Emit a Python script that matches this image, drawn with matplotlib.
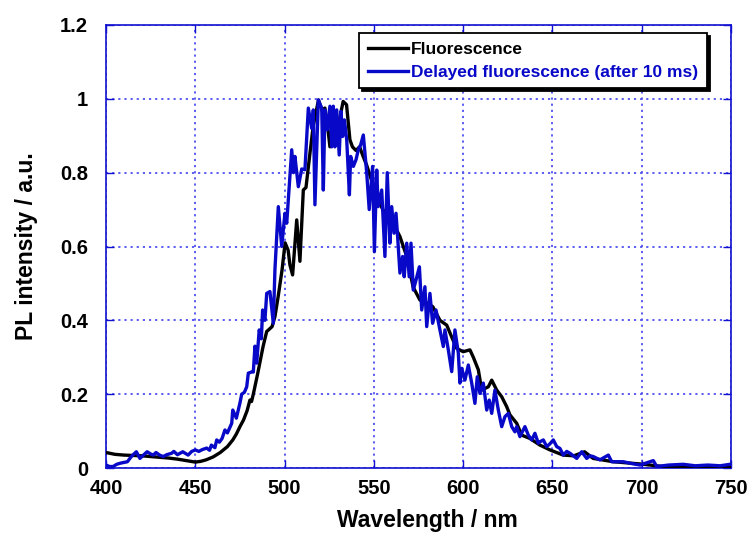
import matplotlib
matplotlib.use('Agg')
import matplotlib.pyplot as plt

# ---- data ----
fl_wl = [400, 405, 410, 415, 420, 425, 430, 435, 440, 445, 450, 453, 456, 460,
         464, 468, 471, 473, 475, 477, 479, 480.6, 481.5, 482.5, 485, 488, 490,
         491, 493, 494.6, 496.4, 498.6, 500.3, 502, 503, 504.5, 506.8, 508.6,
         510.5, 512, 514, 516, 519, 520.8, 522.6, 524, 525.4, 527, 529, 531,
         532.8, 534.7, 536.6, 538, 540, 542, 544, 546, 548, 551.6, 555, 558,
         560.7, 564.6, 568.4, 572, 575.8, 579.6, 583, 587, 590.8, 594, 596.4,
         600, 603.8, 605.7, 608.5, 610.4, 614.1, 616, 618.8, 621.6, 624.4,
         626.2, 630, 632.8, 637.4, 643, 648.6, 656, 662, 668, 672.8, 684, 699,
         712, 730, 750]
fl_val = [0.042, 0.037, 0.035, 0.034, 0.033, 0.031, 0.029, 0.027, 0.024, 0.020,
          0.016, 0.018, 0.022, 0.030, 0.042, 0.058, 0.076, 0.092, 0.112, 0.130,
          0.155, 0.184, 0.180, 0.200, 0.257, 0.330, 0.370, 0.374, 0.383, 0.410,
          0.464, 0.537, 0.610, 0.590, 0.550, 0.523, 0.672, 0.560, 0.753, 0.760,
          0.844, 0.925, 0.997, 0.970, 0.975, 0.930, 0.870, 0.920, 0.880, 0.950,
          0.993, 0.984, 0.889, 0.870, 0.860, 0.870, 0.844, 0.820, 0.790, 0.735,
          0.700, 0.680, 0.664, 0.627, 0.573, 0.490, 0.455, 0.447, 0.437, 0.400,
          0.387, 0.350, 0.324, 0.315, 0.320, 0.300, 0.266, 0.211, 0.220, 0.238,
          0.211, 0.193, 0.166, 0.144, 0.121, 0.089, 0.080, 0.062, 0.049, 0.035,
          0.033, 0.044, 0.026, 0.017, 0.011, 0.004, 0.003, 0.003]

df_wl = [400, 402, 404, 406, 408, 410, 412, 414, 415, 417, 419, 421, 423, 425,
         426.5, 428, 430, 432, 434, 436.8, 438, 440, 443, 446, 448, 450, 452,
         454, 456.4, 458, 459, 461, 462, 463.5, 465, 466.6, 468, 470.4, 471,
         473, 475, 476, 477.5, 478.8, 479.7, 481.5, 482.5, 483.4, 484.4, 485.8,
         487, 487.7, 489, 490, 491.8, 493.7, 494.6, 496.5, 498.4, 500.2, 501.2,
         504, 505, 505.8, 507.7, 509.6, 511.4, 513.3, 515.2, 516.1, 517, 518.9,
         520.8, 521.7, 522.6, 523.9, 525.4, 526.4, 527.3, 528.2, 529.2, 530.6,
         531.6, 532.5, 533.5, 534.8, 536.3, 537, 538.5, 540, 541.3, 542.6,
         544.1, 546, 547.4, 549.3, 550.3, 551.6, 552.4, 554.4, 556.2, 557.5,
         559, 560, 561.3, 562.4, 563.3, 564.6, 566.1, 567, 568.4, 569.8, 570.8,
         572.1, 573.6, 575.5, 576.8, 578.6, 579.6, 581.4, 582.9, 584.8, 587,
         588.9, 589.8, 591.7, 593.6, 595.4, 597.3, 598.2, 599.2, 601, 602.9,
         604.8, 606.6, 607.9, 609.4, 611.3, 613.2, 614.6, 616, 617.8, 619.7,
         621.6, 623.4, 625.3, 627.2, 629, 630, 631.8, 634.6, 636.5, 638.4,
         640.2, 642.1, 643, 644.9, 646.8, 648.5, 650.5, 652.4, 654.2, 656.1,
         658, 659.8, 663.6, 666.4, 669.2, 671, 672.9, 676.6, 681.3, 683.2,
         689.7, 693.4, 699, 706.5, 708.4, 715, 723.3, 730, 737, 744, 749.4]
df_val = [0.008, 0.004, 0.004, 0.010, 0.013, 0.015, 0.017, 0.030, 0.035, 0.044,
          0.026, 0.035, 0.044, 0.038, 0.035, 0.042, 0.035, 0.031, 0.036, 0.040,
          0.045, 0.036, 0.044, 0.035, 0.045, 0.049, 0.045, 0.050, 0.054, 0.048,
          0.062, 0.055, 0.076, 0.070, 0.080, 0.103, 0.095, 0.121, 0.157, 0.135,
          0.176, 0.200, 0.205, 0.220, 0.257, 0.260, 0.260, 0.330, 0.284, 0.374,
          0.350, 0.428, 0.400, 0.473, 0.478, 0.392, 0.537, 0.708, 0.600, 0.690,
          0.663, 0.862, 0.800, 0.844, 0.762, 0.810, 0.808, 0.975, 0.920, 0.970,
          0.713, 0.997, 0.975, 0.753, 0.970, 0.916, 0.980, 0.870, 0.980, 0.870,
          0.970, 0.848, 0.966, 0.898, 0.943, 0.889, 0.740, 0.844, 0.817, 0.835,
          0.862, 0.875, 0.902, 0.800, 0.700, 0.817, 0.586, 0.807, 0.708, 0.753,
          0.573, 0.800, 0.609, 0.708, 0.636, 0.690, 0.627, 0.528, 0.573, 0.518,
          0.609, 0.518, 0.609, 0.482, 0.509, 0.545, 0.428, 0.491, 0.383, 0.473,
          0.392, 0.428, 0.374, 0.329, 0.374, 0.320, 0.261, 0.374, 0.311, 0.230,
          0.270, 0.238, 0.279, 0.230, 0.175, 0.247, 0.202, 0.230, 0.157, 0.184,
          0.148, 0.211, 0.157, 0.112, 0.139, 0.148, 0.112, 0.098, 0.112, 0.085,
          0.112, 0.089, 0.076, 0.094, 0.067, 0.071, 0.076, 0.058, 0.065, 0.076,
          0.058, 0.053, 0.035, 0.045, 0.040, 0.026, 0.044, 0.026, 0.033, 0.031,
          0.022, 0.035, 0.017, 0.017, 0.013, 0.008, 0.020, 0.004, 0.008, 0.010,
          0.006, 0.008, 0.006, 0.010]

x_ticks = [400, 450, 500, 550, 600, 650, 700, 750]
y_ticks = [0, 0.2, 0.4, 0.6, 0.8, 1.0, 1.2]
y_tick_labels = ['0', '0.2', '0.4', '0.6', '0.8', '1', '1.2']

plt.rcParams['font.family'] = ['Liberation Sans', 'DejaVu Sans']
plt.rcParams['font.weight'] = 'bold'

frame_blue = '#1010d0'
grid_blue = '#5050f0'
line_blue = '#0808c8'

fig = plt.figure(figsize=(7.51, 5.37), dpi=100)
ax = fig.add_axes([106 / 751, 69 / 537, 625 / 751, 443 / 537])

ax.plot(fl_wl, fl_val, color='black', lw=2.4, label='Fluorescence', zorder=3)
ax.plot(df_wl, df_val, color=line_blue, lw=2.4,
        label='Delayed fluorescence (after 10 ms)', zorder=4)

ax.set_xlim(400, 750)
ax.set_ylim(0, 1.2)
ax.set_xticks(x_ticks)
ax.set_yticks(y_ticks)
ax.set_yticklabels(y_tick_labels)
ax.tick_params(direction='in', length=6, width=1, color=frame_blue,
               labelsize=14.5, top=True, right=True)
ax.tick_params(axis='y', pad=13)
ax.tick_params(axis='x', pad=8)
for lab in ax.get_xticklabels() + ax.get_yticklabels():
    lab.set_fontweight('bold')
for sp in ax.spines.values():
    sp.set_color(frame_blue)
    sp.set_linewidth(1.2)

ax.grid(True, color=grid_blue, linestyle=(0, (1.2, 2.2)), linewidth=1.3)
ax.set_axisbelow(True)

ax.set_xlabel('Wavelength / nm', fontsize=16.5, fontweight='bold')
ax.xaxis.set_label_coords((427 - 106) / 625, -0.093)
ax.set_ylabel('PL intensity / a.u.', fontsize=16.5, fontweight='bold', labelpad=16)

leg = ax.legend(loc='upper right', bbox_to_anchor=(707 / 751, 1 - 33 / 537),
                bbox_transform=fig.transFigure, fontsize=12.5, frameon=True,
                fancybox=False, borderaxespad=0, handlelength=2.3,
                handletextpad=0.2, borderpad=0.5, labelspacing=0.45,
                shadow={'color': 'black', 'alpha': 1})
leg.get_frame().set_edgecolor('black')
leg.get_frame().set_linewidth(1.3)
leg.get_frame().set_alpha(1)
for txt, col in zip(leg.get_texts(), ['black', line_blue]):
    txt.set_color(col)
    txt.set_fontweight('bold')

fig.savefig('out.png', dpi=100)
